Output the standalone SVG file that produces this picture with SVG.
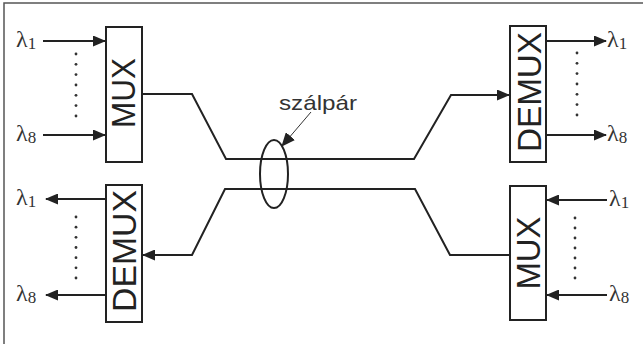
<svg xmlns="http://www.w3.org/2000/svg" width="643" height="344" viewBox="0 0 643 344">
<style>
.frame{fill:none;stroke:#555;stroke-width:1.5}
.box{fill:#fff;stroke:#222;stroke-width:2}
.ln{fill:none;stroke:#222;stroke-width:2}
.thin{fill:none;stroke:#333;stroke-width:1}
.blk{font-family:"Liberation Sans",Arial,sans-serif;font-size:34px;fill:#222;text-anchor:middle}
.lam{font-family:"Liberation Serif","Times New Roman",serif;font-size:24px;fill:#333}
.sub{font-size:17px}
.lbl{font-family:"Liberation Sans",Arial,sans-serif;font-size:21px;fill:#333}
.dot{fill:#333}
</style>
<defs>
<marker id="ah" markerWidth="13" markerHeight="11" refX="12" refY="5.5" orient="auto" markerUnits="userSpaceOnUse">
<path d="M0,0 L13,5.5 L0,11 Z" fill="#222"/>
</marker>
<marker id="ah2" markerWidth="14" markerHeight="12" refX="13" refY="6" orient="auto" markerUnits="userSpaceOnUse">
<path d="M0,0 L14,6 L0,12 Z" fill="#222"/>
</marker>
</defs>
<rect width="643" height="344" fill="#fff"/>
<rect class="frame" x="4" y="3" width="650" height="350"/>

<g id="connectors">
<path class="ln" d="M142,94 H192 L226,159 H414 L451,95 H509" marker-end="url(#ah)"/>
<path class="ln" d="M510,255 H450 L415,189 H225 L192,255 H143" marker-end="url(#ah)"/>
<line class="ln" x1="43" y1="41" x2="105" y2="41" marker-end="url(#ah)"/>
<line class="ln" x1="43" y1="135" x2="105" y2="135" marker-end="url(#ah)"/>
<line class="ln" x1="546" y1="41" x2="606" y2="41" marker-end="url(#ah)"/>
<line class="ln" x1="546" y1="135" x2="606" y2="135" marker-end="url(#ah)"/>
<line class="ln" x1="106" y1="199" x2="46" y2="199" marker-end="url(#ah)"/>
<line class="ln" x1="106" y1="295" x2="46" y2="295" marker-end="url(#ah)"/>
<line class="ln" x1="607" y1="200" x2="547" y2="200" marker-end="url(#ah)"/>
<line class="ln" x1="607" y1="295" x2="547" y2="295" marker-end="url(#ah)"/>
<line class="thin" x1="311" y1="112" x2="282" y2="146" marker-end="url(#ah2)"/>
</g>

<g id="mux-tl">
<rect class="box" x="106" y="27" width="36" height="135"/>
<text class="blk" transform="translate(135,93) rotate(-90)" textLength="70" lengthAdjust="spacingAndGlyphs">MUX</text>
</g>
<g id="demux-tr">
<rect class="box" x="510" y="26" width="36" height="136"/>
<text class="blk" transform="translate(541,92) rotate(-90)" textLength="120" lengthAdjust="spacingAndGlyphs">DEMUX</text>
</g>
<g id="demux-bl">
<rect class="box" x="106" y="185" width="36" height="137"/>
<text class="blk" transform="translate(136,251) rotate(-90)" textLength="122" lengthAdjust="spacingAndGlyphs">DEMUX</text>
</g>
<g id="mux-br">
<rect class="box" x="510" y="186" width="36" height="134"/>
<text class="blk" transform="translate(540,253) rotate(-90)" textLength="73" lengthAdjust="spacingAndGlyphs">MUX</text>
</g>

<g id="fiber-pair">
<ellipse class="ln" cx="274" cy="174" rx="14" ry="34"/>
<text class="lbl" x="279" y="110" textLength="78" lengthAdjust="spacingAndGlyphs">szálpár</text>
</g>

<g id="labels">
<text class="lam" x="16" y="47">λ<tspan class="sub" dy="2">1</tspan></text>
<text class="lam" x="16" y="141">λ<tspan class="sub" dy="2">8</tspan></text>
<text class="lam" x="607" y="47">λ<tspan class="sub" dy="2">1</tspan></text>
<text class="lam" x="607" y="141">λ<tspan class="sub" dy="2">8</tspan></text>
<text class="lam" x="16" y="205">λ<tspan class="sub" dy="2">1</tspan></text>
<text class="lam" x="16" y="301">λ<tspan class="sub" dy="2">8</tspan></text>
<text class="lam" x="609" y="206">λ<tspan class="sub" dy="2">1</tspan></text>
<text class="lam" x="609" y="301">λ<tspan class="sub" dy="2">8</tspan></text>
</g>

<g id="dots">
<g class="dot">
<circle cx="76" cy="54" r="1.4"/><circle cx="76" cy="64.3" r="1.4"/><circle cx="76" cy="74.6" r="1.4"/><circle cx="76" cy="85" r="1.4"/><circle cx="76" cy="95.3" r="1.4"/><circle cx="76" cy="105.6" r="1.4"/><circle cx="76" cy="116" r="1.4"/>
<circle cx="577" cy="53" r="1.4"/><circle cx="577" cy="63.3" r="1.4"/><circle cx="577" cy="73.6" r="1.4"/><circle cx="577" cy="84" r="1.4"/><circle cx="577" cy="94.3" r="1.4"/><circle cx="577" cy="104.6" r="1.4"/><circle cx="577" cy="115" r="1.4"/>
<circle cx="76" cy="217" r="1.4"/><circle cx="76" cy="227.2" r="1.4"/><circle cx="76" cy="237.3" r="1.4"/><circle cx="76" cy="247.5" r="1.4"/><circle cx="76" cy="257.7" r="1.4"/><circle cx="76" cy="267.8" r="1.4"/><circle cx="76" cy="278" r="1.4"/>
<circle cx="575" cy="218" r="1.4"/><circle cx="575" cy="228" r="1.4"/><circle cx="575" cy="238" r="1.4"/><circle cx="575" cy="248" r="1.4"/><circle cx="575" cy="258" r="1.4"/><circle cx="575" cy="268" r="1.4"/><circle cx="575" cy="278" r="1.4"/>
</g>
</g>
</svg>
